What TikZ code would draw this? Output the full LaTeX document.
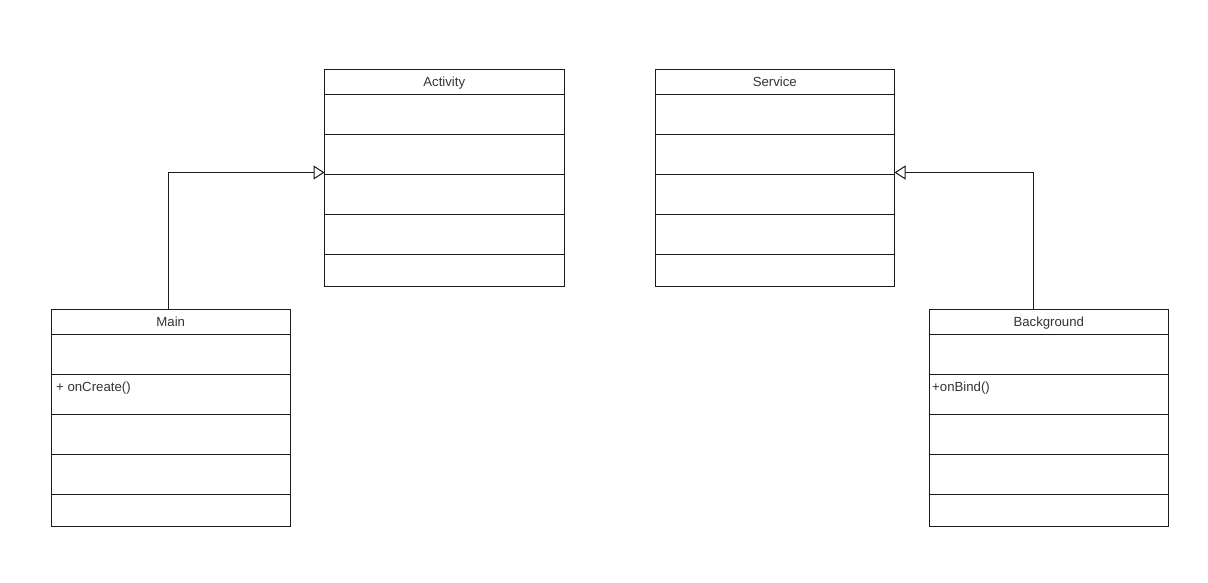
\documentclass[tikz,border=0pt]{standalone}
\usepackage{fontspec}
\setmainfont{Liberation Sans}
\usetikzlibrary{arrows.meta}
\definecolor{txt}{HTML}{333333}
\definecolor{ln}{HTML}{1A1A1A}
\tikzset{
  hdr/.style={draw=ln, line width=1pt, anchor=north west, minimum width=239.5pt, minimum height=25pt,
    inner sep=0pt, outer sep=0pt, text=txt, text height=10pt, text depth=0pt,
    font=\fontsize{13.2}{15}\selectfont},
  cell/.style={draw=ln, line width=1pt, anchor=north west, minimum width=239.5pt, minimum height=40pt,
    inner sep=0pt, outer sep=0pt},
  meth/.style={anchor=base west, inner sep=0pt, text=txt, font=\fontsize{13.2}{15}\selectfont},
  inherit/.style={draw=ln, line width=1pt, -{Triangle[open, length=11pt, width=14pt, fill=white]}}
}
\newcommand{\umlclass}[4]{%
  \node[hdr] (#1-h) at (#2,#3) {#4};
  \node[cell] (#1-1) at (#1-h.south west) {};
  \node[cell] (#1-2) at (#1-1.south west) {};
  \node[cell] (#1-3) at (#1-2.south west) {};
  \node[cell] (#1-4) at (#1-3.south west) {};
  \node[cell, minimum height=32pt] (#1-5) at (#1-4.south west) {};
}
\begin{document}
\begin{tikzpicture}[x=1pt, y=-1pt]
  \useasboundingbox (0,0) rectangle (1208,583);
  \umlclass{act}{324.5}{69.5}{Activity}
  \umlclass{srv}{655}{69.5}{Service}
  \umlclass{main}{51}{309}{Main}
  \umlclass{bg}{929}{309}{Background}
  \node[meth] (main-m) at ([xshift=5pt, yshift=-17.5pt]main-2.north west) {+ onCreate()};
  \node[meth] (bg-m) at ([xshift=3pt, yshift=-17.5pt]bg-2.north west) {+onBind()};
  \draw[inherit] ([xshift=-2.5pt]main-h.north) |- ([yshift=2pt]act-2.south west);
  \draw[inherit] ([xshift=-15pt]bg-h.north) |- ([yshift=2pt]srv-2.south east);
\end{tikzpicture}
\end{document}
